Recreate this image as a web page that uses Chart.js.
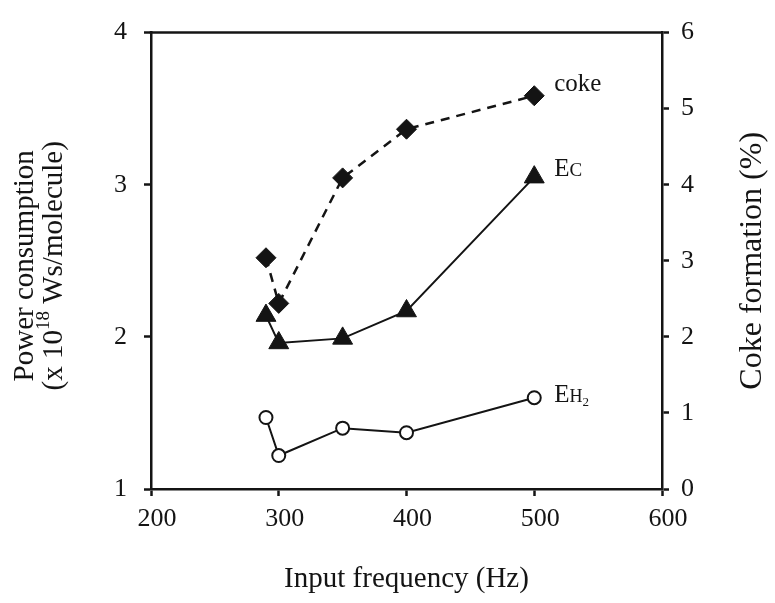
<!DOCTYPE html>
<html>
<head>
<meta charset="utf-8">
<script src="https://cdn.jsdelivr.net/npm/chart.js@4"></script>
<style>
body { margin: 0; background: #fff; }
</style>
</head>
<body>
<canvas id="chart" width="775" height="603"></canvas>
<script>
// input frequency (Hz)
var frequency = [290, 300, 350, 400, 500];
// coke formation (%), right axis
var cokeValues = [3.04, 2.44, 4.09, 4.73, 5.17];
// power consumption (x 10^18 Ws/molecule), left axis
var ecValues = [2.14, 1.96, 1.99, 2.17, 3.05];
var eh2Values = [1.47, 1.22, 1.40, 1.37, 1.60];

var xTicks = [200, 300, 400, 500, 600];
var leftTicks = [1, 2, 3, 4];
var rightTicks = [0, 1, 2, 3, 4, 5, 6];

var ink = '#141414';
var serif = "'Liberation Serif', 'Times New Roman', serif";

function points(values) {
	var out = [];
	for (var i = 0; i < frequency.length; i++) {
		out.push({ x: frequency[i], y: values[i] });
	}
	return out;
}

// draws text pieces one after another, each with its own size and shift
function drawPieces(ctx, x, y, pieces) {
	var cx = x;
	for (var p of pieces) {
		ctx.font = p.size + 'px ' + serif;
		ctx.fillText(p.text, cx, y + (p.dy || 0));
		cx += ctx.measureText(p.text).width;
	}
	return cx - x;
}

function piecesWidth(ctx, pieces) {
	var w = 0;
	for (var p of pieces) {
		ctx.font = p.size + 'px ' + serif;
		w += ctx.measureText(p.text).width;
	}
	return w;
}

var extras = {
	id: 'extras',
	afterDraw: function(chart) {
		var ctx = chart.ctx;
		var area = chart.chartArea;
		ctx.save();
		// top side of the frame
		ctx.strokeStyle = ink;
		ctx.lineWidth = 2.5;
		ctx.beginPath();
		ctx.moveTo(area.left - 1.25, area.top);
		ctx.lineTo(area.right + 1.25, area.top);
		ctx.stroke();

		ctx.fillStyle = ink;
		ctx.textAlign = 'left';
		ctx.textBaseline = 'alphabetic';

		// series labels next to the last point of each line
		var names = [
			[{ text: 'coke', size: 25 }],
			[{ text: 'E', size: 25 }, { text: 'C', size: 19 }],
			[{ text: 'E', size: 25 }, { text: 'H', size: 18 }, { text: '2', size: 13, dy: 4 }]
		];
		var shifts = [[20, -5], [20, -1], [20, 4]];
		for (var d = 0; d < 3; d++) {
			var meta = chart.getDatasetMeta(d);
			var last = meta.data[meta.data.length - 1];
			drawPieces(ctx, last.x + shifts[d][0], last.y + shifts[d][1], names[d]);
		}

		// left axis title, two lines, read bottom to top
		ctx.textBaseline = 'middle';
		var midY = (area.top + area.bottom) / 2 + 5;
		var line1 = [{ text: 'Power consumption', size: 29 }];
		var line2 = [
			{ text: '(x 10', size: 29 },
			{ text: '18', size: 19, dy: -10 },
			{ text: ' Ws/molecule)', size: 29 }
		];
		[[25, line1], [54, line2]].forEach(function(item) {
			ctx.save();
			ctx.translate(item[0], midY);
			ctx.rotate(-Math.PI / 2);
			drawPieces(ctx, -piecesWidth(ctx, item[1]) / 2, 0, item[1]);
			ctx.restore();
		});

		// right axis title
		var right = [{ text: 'Coke formation (%)', size: 32 }];
		ctx.save();
		ctx.translate(753, (area.top + area.bottom) / 2);
		ctx.rotate(-Math.PI / 2);
		drawPieces(ctx, -piecesWidth(ctx, right) / 2, 0, right);
		ctx.restore();
		ctx.restore();
	}
};

var tickFont = { family: serif, size: 26 };

var ctx = document.getElementById('chart');
var myChart = new Chart(ctx, {
	type: 'line',
	data: {
		datasets: [
			{
				label: 'coke',
				data: points(cokeValues),
				yAxisID: 'y2',
				borderColor: ink,
				borderWidth: 2.5,
				borderDash: [9, 7],
				pointStyle: 'rectRot',
				pointRadius: 10,
				pointBorderWidth: 1,
				pointBackgroundColor: ink,
				pointBorderColor: ink
			},
			{
				label: 'Ec',
				data: points(ecValues),
				yAxisID: 'y',
				borderColor: ink,
				borderWidth: 2,
				pointStyle: 'triangle',
				pointRadius: 11.5,
				pointBorderWidth: 1,
				pointBackgroundColor: ink,
				pointBorderColor: ink
			},
			{
				label: 'EH2',
				data: points(eh2Values),
				yAxisID: 'y',
				borderColor: ink,
				borderWidth: 2,
				pointStyle: 'circle',
				pointRadius: 6.5,
				pointBorderWidth: 2,
				pointBackgroundColor: '#fff',
				pointBorderColor: ink
			}
		]
	},
	options: {
		responsive: false,
		devicePixelRatio: 1,
		animation: false,
		layout: { padding: { top: 21, left: 0, right: 0, bottom: 0 } },
		plugins: {
			legend: { display: false },
			tooltip: { enabled: false }
		},
		scales: {
			x: {
				type: 'linear',
				position: 'bottom',
				min: xTicks[0],
				max: xTicks[xTicks.length - 1],
				afterBuildTicks: function(scale) {
					scale.ticks = xTicks.map(function(v) { return { value: v }; });
				},
				afterFit: function(scale) { scale.height = 114; },
				ticks: { font: tickFont, color: ink, padding: 8, labelOffset: 6, maxRotation: 0 },
				grid: { drawOnChartArea: false, tickLength: 7, tickWidth: 2.5, tickColor: ink },
				border: { color: ink, width: 2.5 },
				title: {
					display: true,
					text: 'Input frequency (Hz)',
					font: { family: serif, size: 29 },
					color: ink,
					padding: { top: 0, bottom: 6 }
				}
			},
			y: {
				position: 'left',
				min: leftTicks[0],
				max: leftTicks[leftTicks.length - 1],
				afterBuildTicks: function(scale) {
					scale.ticks = leftTicks.map(function(v) { return { value: v }; });
				},
				afterFit: function(scale) { scale.width = 151; },
				ticks: { font: tickFont, color: ink, padding: 17 },
				grid: { drawOnChartArea: false, tickLength: 7, tickWidth: 2.5, tickColor: ink },
				border: { color: ink, width: 2.5 }
			},
			y2: {
				position: 'right',
				min: rightTicks[0],
				max: rightTicks[rightTicks.length - 1],
				afterBuildTicks: function(scale) {
					scale.ticks = rightTicks.map(function(v) { return { value: v }; });
				},
				afterFit: function(scale) { scale.width = 113; },
				ticks: { font: tickFont, color: ink, padding: 12 },
				grid: { drawOnChartArea: false, tickLength: 7, tickWidth: 2.5, tickColor: ink },
				border: { color: ink, width: 2.5 }
			}
		}
	},
	plugins: [extras]
});
</script>
</body>
</html>
